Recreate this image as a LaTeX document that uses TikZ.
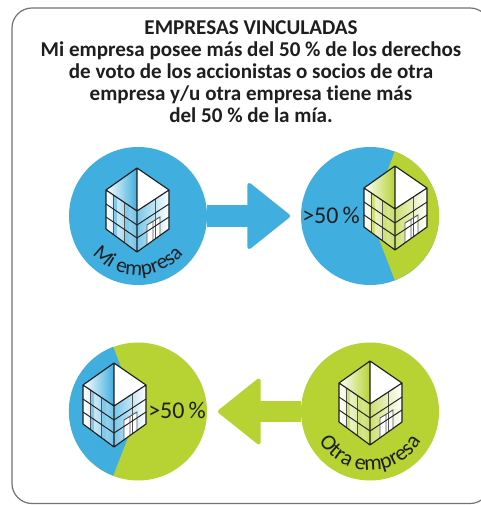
\documentclass[tikz,border=0pt]{standalone}
\usepackage{fontspec}
\setmainfont[Ligatures=NoCommon]{Carlito}
\usetikzlibrary{arrows.meta,decorations.text}
\definecolor{cblue}{HTML}{40AEDF}
\definecolor{cgreen}{HTML}{B6D233}
\definecolor{ink}{HTML}{1E1E1E}
\tikzset{
  x=0.75pt,y=-0.75pt,
  disc/.style={circle,inner sep=0pt,minimum size=103.5pt,fill=#1},
  bigarrow/.style={line width=16pt,draw=#1,
    -{Triangle[length=33pt,width=52pt,line width=3pt,round]},shorten >=8pt},
  pct/.style={font=\fontsize{18}{20}\selectfont,text=ink,inner sep=0pt},
  curved/.style={decorate,decoration={text along path,text align=center,
      text={|\fontsize{16}{18}\selectfont\color{ink}|#1}}},
  curvedwide/.style={decorate,decoration={text along path,text align=center,
      text={|\fontsize{16.5}{18}\selectfont\color{ink}|#1}}},
  edge/.style={draw=ink,line width=0.85pt,line join=round},
  thin edge/.style={draw=ink!75,line width=0.5pt},
  pics/bldg/.style={code={
    % top faces
    \path[left color=white,right color=#1] (0,0) -- (-31,22) -- (0,43) -- cycle;
    \fill[white] (0,0) -- (32,22) -- (0,43) -- cycle;
    % walls
    \path[left color=white,right color=#1!75!white] (-31,22) -- (0,43) -- (0,84) -- (-31,61) -- cycle;
    \path[left color=#1!70!white,right color=white] (0,43) -- (32,22) -- (32,61) -- (0,84) -- cycle;
    \fill[#1!65!white] (-24,27) -- (-20,30) -- (-20,70) -- (-24,67) -- cycle;
    \fill[#1!65!white] (-13,34) -- (-8,38) -- (-8,78) -- (-13,74) -- cycle;
    \fill[white] (10,77) -- (10,57) -- (23,49) -- (23,68) -- cycle;
    % window lines
    \draw[thin edge] (-24,27) -- (-24,67) (-13,34) -- (-13,74) (18,31) -- (18,70);
    % door
    \draw[thin edge,line width=0.7pt] (10,77) -- (10,57) -- (23,49) -- (23,68) (16,53) -- (16,72);
    % floors
    \draw[edge,line width=0.7pt] (-31,36) -- (0,57) -- (32,36) (-31,49) -- (0,70) -- (32,49);
    % outline
    \draw[edge] (0,0) -- (-31,22) -- (-31,61) -- (0,84) -- (32,61) -- (32,22) -- cycle
       (-31,22) -- (0,43) -- (32,22) (0,0) -- (0,84);
  }},
}
\begin{document}
\begin{tikzpicture}
\useasboundingbox (0,0) rectangle (480,505);
\fill[white] (0,0) rectangle (480,505);
\draw[draw=black!55,line width=0.9pt,rounded corners=15pt] (12,8) -- (490,8) -- (490,503.5) -- (12,503.5) -- cycle;

\node[inner sep=0pt,align=center,text=ink,font=\bfseries\fontsize{15.8}{16.5}\selectfont] (title) at (251,72)
 {EMPRESAS VINCULADAS\\Mi empresa posee más del 50 \% de los derechos\\de voto de los accionistas o socios de otra\\empresa y/u otra empresa tiene más\\del 50 \% de la mía.};

\node[disc=cblue] (mi) at (138,216) {};
\node[disc=cblue] (pos) at (370,216) {};
\node[disc=cgreen] (neg) at (138,411.5) {};
\node[disc=cgreen] (otra) at (370,411.5) {};

\fill[cgreen] (pos.center) -- (pos.69) arc[start angle=-69,end angle=69,radius=69] -- cycle;
\fill[cblue] (neg.center) -- (neg.111) arc[start angle=-111,end angle=-249,radius=69] -- cycle;

\draw[bigarrow=cblue] (mi.east) -- (pos.west);
\draw[bigarrow=cgreen] (otra.west) -- (neg.east);

\pic (b1) at (137,168) {bldg=cblue};
\pic (b2) at (395,166) {bldg=cgreen};
\pic (b3) at (114,363) {bldg=cblue};
\pic (b4) at (370,361) {bldg=cgreen};

\node[pct,anchor=west] (p1) at (302,215) {>50\,\%};
\node[pct,anchor=west] (p2) at (148,410) {>50\,\%};

\path[curved={Mi empresa}] (mi.center) ++(-58.1,10.2) arc[start angle=170,end angle=10,radius=59];
\path[curvedwide={Otra empresa}] (otra.center) ++(-58.1,10.2) arc[start angle=170,end angle=10,radius=59];
\end{tikzpicture}
\end{document}
